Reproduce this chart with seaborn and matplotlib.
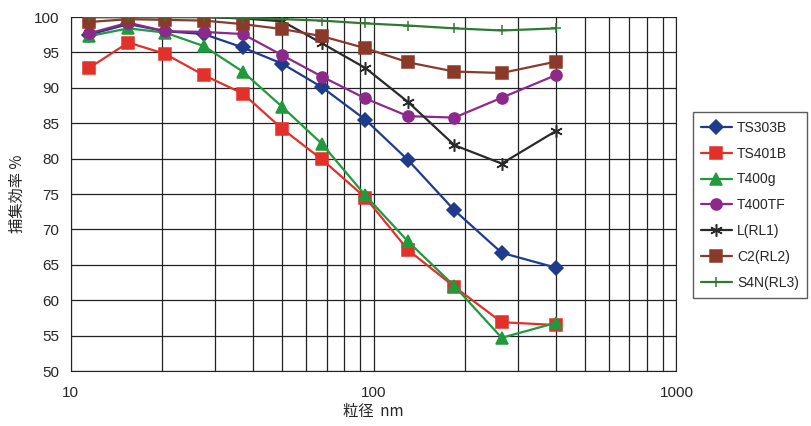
import pandas as pd
import matplotlib.pyplot as plt
import seaborn as sns
from matplotlib.ticker import FixedLocator, NullFormatter

# particle size (nm) and collection efficiency (%)
size_nm = [11.5, 15.5, 20.5, 27.5, 37, 50, 67.5, 94, 130, 185, 265, 400]
ts303b = [97.5, 99.0, 98.0, 97.6, 95.7, 93.4, 90.1, 85.5, 79.8, 72.7, 66.7, 64.6]
ts401b = [92.8, 96.4, 94.8, 91.8, 89.2, 84.2, 79.9, 74.5, 67.1, 61.9, 56.9, 56.5]
t400g = [97.3, 98.4, 97.8, 95.9, 92.3, 87.3, 82.1, 74.8, 68.3, 62.0, 54.7, 56.8]
t400tf = [97.7, 99.2, 98.0, 97.9, 97.6, 94.6, 91.6, 88.5, 86.0, 85.8, 88.6, 91.8]
l_rl1 = [100.0, 100.0, 100.0, 100.0, 99.8, 99.4, 96.3, 92.8, 88.0, 81.9, 79.3, 83.9]
c2_rl2 = [99.3, 99.7, 99.6, 99.5, 99.0, 98.3, 97.3, 95.6, 93.6, 92.3, 92.1, 93.7]
s4n_rl3 = [100.0, 100.0, 100.0, 100.0, 99.9, 99.7, 99.5, 99.1, 98.8, 98.4, 98.1, 98.4]

names = ['TS303B', 'TS401B', 'T400g', 'T400TF', 'L(RL1)', 'C2(RL2)', 'S4N(RL3)']
values = [ts303b, ts401b, t400g, t400tf, l_rl1, c2_rl2, s4n_rl3]
colors = ['#1f3b8c', '#e2302b', '#1f9a3c', '#8c2a8c', '#2a2a2a', '#8b3a2a', '#2e7a32']
markers = ['D', 's', '^', 'o', (6, 2, 0), 's', '+']
msizes = [7, 8.5, 8.5, 8, 9, 9, 7]

sns.set_style('white')
plt.rcParams['font.family'] = ['Liberation Sans', 'Noto Sans CJK JP', 'DejaVu Sans']

fig = plt.figure(figsize=(8.12, 4.26), dpi=100)
ax = fig.add_axes([0.087, 0.129, 0.746, 0.831])

for name, vals, c, m, ms in zip(names, values, colors, markers, msizes):
    df = pd.DataFrame({'size': size_nm, 'eff': vals})
    sns.lineplot(data=df, x='size', y='eff', ax=ax, color=c, marker=m,
                 markersize=ms, markeredgecolor=c, markerfacecolor=c,
                 markeredgewidth=1.1, linewidth=1.6, label=name)

ax.set_xscale('log')
ax.set_xlim(10, 1000)
ax.set_ylim(50, 100)
ax.set_yticks(range(50, 101, 5))
ax.xaxis.set_major_locator(FixedLocator([10, 100, 1000]))
minor = [k * 10 ** e for e in (1, 2) for k in range(2, 10)]
ax.xaxis.set_minor_locator(FixedLocator(minor))
ax.xaxis.set_minor_formatter(NullFormatter())
ax.set_xticklabels(['10', '100', '1000'])
ax.grid(True, which='both', color='#222222', linewidth=0.9)
ax.set_axisbelow(True)
ax.tick_params(axis='both', which='both', length=0, labelsize=11)
ax.tick_params(axis='x', pad=11)
ax.tick_params(axis='y', pad=8)
for s in ax.spines.values():
    s.set_color('#222222')
ax.spines['top'].set_visible(False)

ax.set_xlabel('粒径  nm', fontsize=11, family=['Noto Sans CJK JP', 'DejaVu Sans'], labelpad=2)
ax.set_ylabel('捕集効率 %', fontsize=11, family=['Noto Sans CJK JP', 'DejaVu Sans'], labelpad=6)

handles, labels = ax.get_legend_handles_labels()
ax.get_legend().remove()
fig.legend(handles, labels, loc='upper left', bbox_to_anchor=(0.853, 0.736),
           frameon=True, fancybox=False, edgecolor='#333333', fontsize=10,
           handlelength=2.2, borderpad=0.6, labelspacing=0.85, handletextpad=0.4,
           borderaxespad=0.0)

fig.savefig('out.png', dpi=100)
